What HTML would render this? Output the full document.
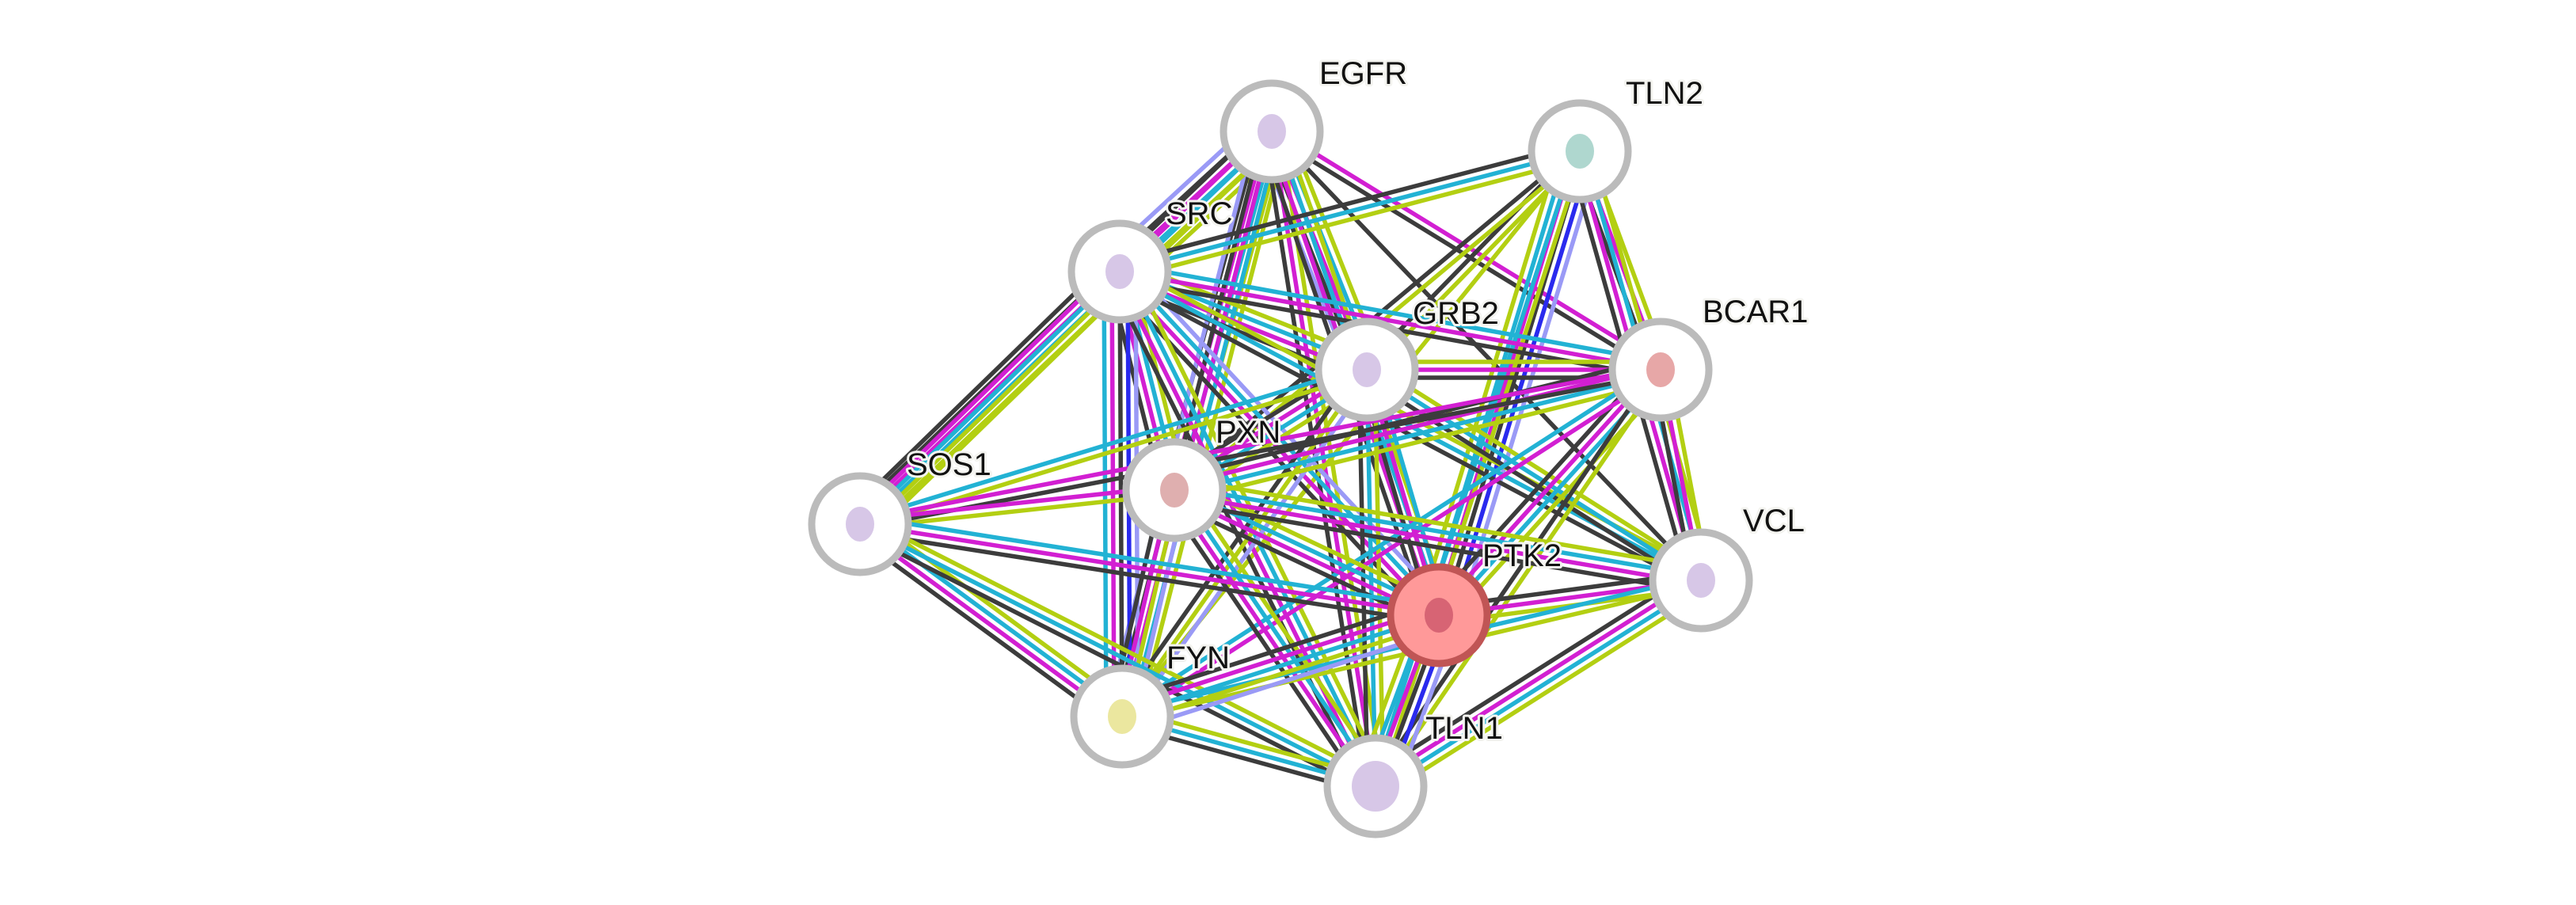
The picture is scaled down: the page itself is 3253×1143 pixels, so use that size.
<!DOCTYPE html>
<html><head><meta charset="utf-8"><style>
html,body{margin:0;padding:0;background:#fff;}
svg{display:block}
text{font-family:"Liberation Sans",sans-serif;font-size:40px;fill:#111;paint-order:stroke;stroke:#f4f4f0;stroke-width:6px;stroke-linejoin:round}
</style></head><body>
<svg id="s" width="3253" height="1143" viewBox="0 0 3253 1143" xmlns="http://www.w3.org/2000/svg"></svg>
<script>
const N={EGFR:[1606,166],TLN2:[1995,191],SRC:[1414,343],GRB2:[1726,467],BCAR1:[2097,467],PXN:[1483,619],SOS1:[1086,662],VCL:[2148,733],PTK2:[1817,777],FYN:[1417,905],TLN1:[1737,993]};
const L={EGFR:[1666,106],TLN2:[2053,131],SRC:[1472,283],GRB2:[1784,409],BCAR1:[2150,407],PXN:[1535,559],SOS1:[1145,600],VCL:[2201,671],PTK2:[1872,715],FYN:[1473,844],TLN1:[1800,933]};
const Y="#b3cf12",C="#22b2d4",M="#d21fd2",K="#3c3c3c",B="#2a2aee",V="#9a9af6";
const full=[Y,C,M,K],E=[
["EGFR","SRC",[Y,Y,C,M,K,V]],["EGFR","GRB2",[Y,C,M,K,V]],["EGFR","PXN",[Y,C,M,K]],["EGFR","FYN",[Y,C,M,K,V]],["EGFR","TLN1",[Y,M,K]],["EGFR","PTK2",[Y,C,M,K]],["EGFR","BCAR1",[M,K]],["EGFR","VCL",[K]],["EGFR","SOS1",[Y,C,M,K]],
["TLN2","SRC",[Y,C,K]],["TLN2","GRB2",[Y,K]],["TLN2","PTK2",[V,B,K,M,C,Y]],["TLN2","BCAR1",[Y,M,K]],["TLN2","VCL",[Y,C,M,K]],["TLN2","TLN1",[Y,C]],["TLN2","PXN",[Y,K]],["TLN2","FYN",[Y]],
["SRC","GRB2",full],["SRC","BCAR1",[C,M,K]],["SRC","PXN",full],["SRC","SOS1",[Y,Y,C,M,K]],["SRC","FYN",[V,B,K,M,C]],["SRC","PTK2",[V,C,M,K]],["SRC","TLN1",[Y,C,M,K]],["SRC","VCL",[Y,C,K]],
["GRB2","BCAR1",[Y,M,K]],["GRB2","PXN",[Y,C,M,K]],["GRB2","SOS1",[Y,C]],["GRB2","FYN",[V,Y,K]],["GRB2","PTK2",[C,M,K]],["GRB2","TLN1",[Y,C,K]],["GRB2","VCL",[Y,C,K]],
["BCAR1","PXN",[Y,C,M,K]],["BCAR1","PTK2",[Y,C,M,K]],["BCAR1","VCL",[Y,M,K]],["BCAR1","FYN",[M,C]],["BCAR1","TLN1",[Y,K]],["BCAR1","SOS1",[K,M]],
["PXN","SOS1",[Y,M]],["PXN","FYN",[V,Y,M,K]],["PXN","PTK2",full],["PXN","TLN1",full],["PXN","VCL",[Y,C,M,K]],
["SOS1","FYN",[Y,C,M,K]],["SOS1","PTK2",[C,M,K]],["SOS1","TLN1",[Y,C,K]],
["VCL","PTK2",[Y,M,K]],["VCL","TLN1",[Y,C,M,K]],["VCL","FYN",[Y,C]],
["PTK2","FYN",[V,Y,C,M,K]],["PTK2","TLN1",[V,B,K,M,C,Y]],["FYN","TLN1",[Y,C,K]]];
let h='';
for(const [a,b,cs] of E){const [x1,y1]=N[a],[x2,y2]=N[b];const dx=x2-x1,dy=y2-y1,l=Math.hypot(dx,dy),px=-dy/l,py=dx/l;
cs.forEach((c,i)=>{const o=(i-(cs.length-1)/2)*10;h+=`<line x1="${x1+px*o}" y1="${y1+py*o}" x2="${x2+px*o}" y2="${y2+py*o}" stroke="${c}" stroke-width="5.5"/>`;});}
for(const k in N){const [x,y]=N[k];const p=k=="PTK2";
h+=`<circle cx="${x}" cy="${y}" r="61" fill="${p?'#f99':'#fff'}" stroke="${p?'#c05555':'#bbb'}" stroke-width="9"/>`;
const col={FYN:'#d8d040',PXN:'#c06060',BCAR1:'#d05050',TLN2:'#60b0a0',PTK2:'#b03050'}[k]||'#b090d0';
h+=`<ellipse cx="${x}" cy="${y}" rx="${k=='TLN1'?30:18}" ry="${k=='TLN1'?32:22}" fill="${col}" opacity="0.5"/>`;}
for(const k in L){const [x,y]=L[k];h+=`<text x="${x}" y="${y}">${k}</text>`;}
document.getElementById('s').innerHTML=h;
</script>
</body></html>
